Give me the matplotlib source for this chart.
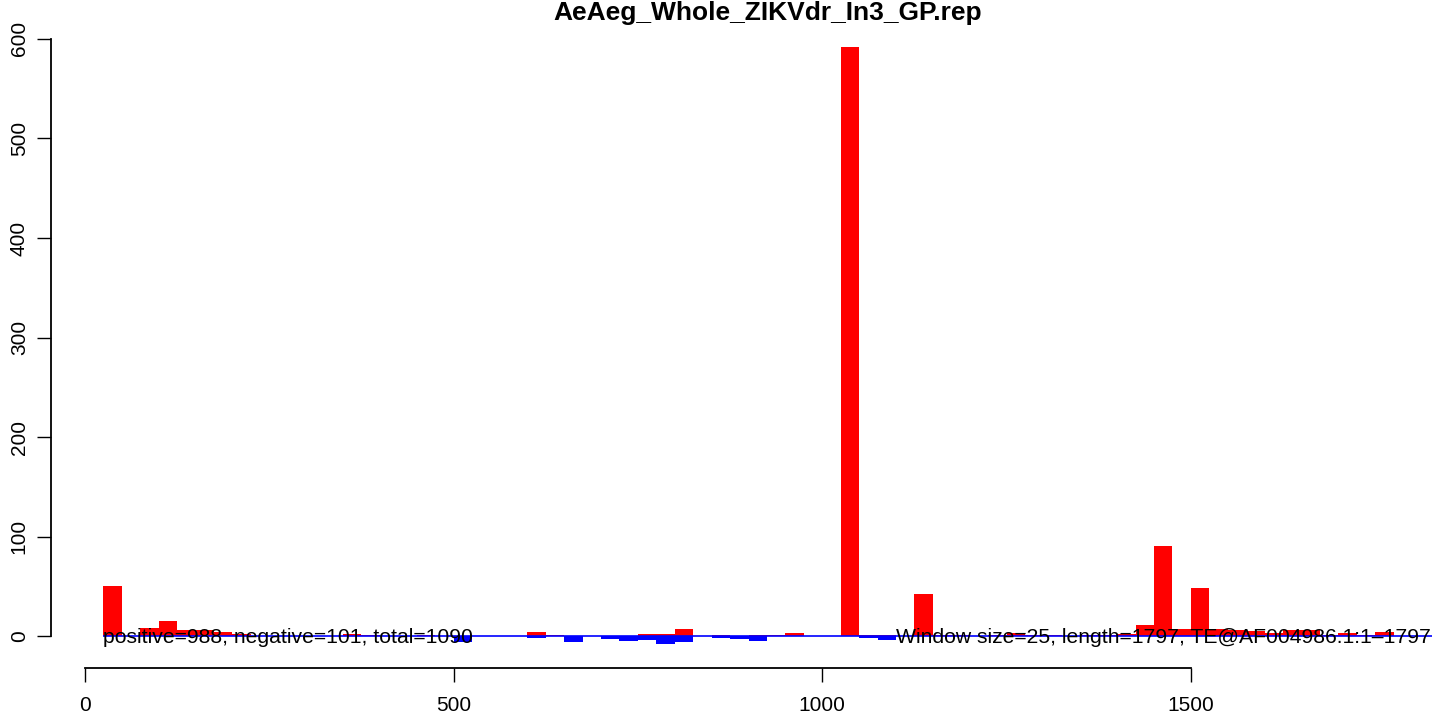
import matplotlib.pyplot as plt

# window index (each window = 25 bp), positive and negative counts
window = 25
win_idx = list(range(1, 71))
pos_counts = [50, 0, 8, 15, 6, 6, 4, 2, 0, 0,
              0, 0, 0, 2, 1, 0, 0, 1, 0, 0,
              0, 0, 0, 4, 1, 0, 0, 0, 0, 2,
              2, 7, 0, 1, 0, 1, 1, 3, 0, 0,
              592, 1, 1, 0, 42, 1, 1, 0, 1, 3,
              1, 1, 0, 1, 1, 2, 11, 91, 7, 48,
              7, 6, 5, 3, 6, 6, 1, 3, 1, 4]
neg_counts = [0, 0, 0, 0, 0, 0, 0, 0, 0, 0,
              0, 0, 0, 0, 0, 0, 0, 0, 0, -6,
              0, 0, 0, -2, 0, -6, 0, -3, -5, -4,
              -8, -6, 0, -2, -3, -5, 0, 0, 0, 0,
              0, -2, -4, 0, 0, 0, 0, 0, 0, 0,
              0, 0, 0, 0, 0, 0, 0, 0, 0, 0,
              0, 0, 0, 0, 0, 0, 0, 0, 0, 0]

seq_length = 1797
title = "AeAeg_Whole_ZIKVdr_In3_GP.rep"
left_note = "positive=988, negative=101, total=1090"
right_note = "Window size=25, length=1797, TE@AF004986.1:1\u20131797"

plt.rcParams['font.family'] = ['Liberation Sans', 'DejaVu Sans']

W, H = 1444, 719
fig = plt.figure(figsize=(W / 100, H / 100), dpi=100)
# plot region in pixels (R-style layout)
ax = fig.add_axes([51 / W, (H - 668) / H, (1432 - 51) / W, (668 - 23) / H])
ax.set_xlim(-46, 1827)
ax.set_ylim(-32, 616)

starts = [k * window for k in win_idx]
ax.bar(starts, pos_counts, width=window, align='edge', color='red', linewidth=0)
ax.bar(starts, neg_counts, width=window, align='edge', color='blue', linewidth=0)
ax.hlines(0, window, seq_length + 30, colors='blue', linewidth=1.2)

ax.text(window, -1, left_note, ha='left', va='center', fontsize=15.2)
ax.text(seq_length + 28, -1, right_note, ha='right', va='center', fontsize=15.2)

# R-like axes: lines only between first and last tick
for s in ['top', 'right']:
    ax.spines[s].set_visible(False)
ax.spines['left'].set_bounds(0, 600)
ax.spines['bottom'].set_bounds(0, 1500)
for s in ['left', 'bottom']:
    ax.spines[s].set_linewidth(1.3)
ax.set_yticks([0, 100, 200, 300, 400, 500, 600])
ax.set_xticks([0, 500, 1000, 1500])
ax.tick_params(direction='out', length=10, width=1.0, labelsize=15)
ax.tick_params(axis='y', pad=6)
ax.tick_params(axis='x', pad=10)
for lab in ax.get_yticklabels():
    lab.set_rotation(90)
    lab.set_va('center')

fig.text(768 / W, 1 - 13 / H, title, ha='center', va='center',
         fontsize=19, fontweight='bold')

fig.savefig('out.png', dpi=100)
